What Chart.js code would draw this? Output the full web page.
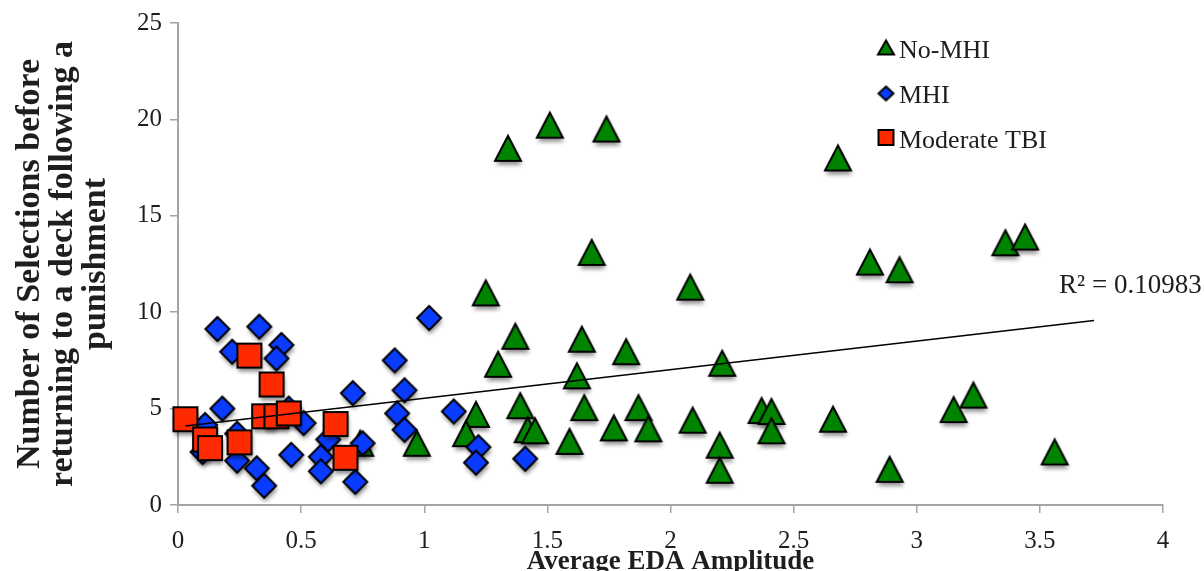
<!DOCTYPE html>
<html>
<head>
<meta charset="utf-8">
<script src="https://cdn.jsdelivr.net/npm/chart.js@4.4.0/dist/chart.umd.min.js"></script>
<style>
html,body{margin:0;padding:0;background:#fff;}
#wrap{width:1204px;height:571px;position:relative;}
</style>
</head>
<body>
<div id="wrap"><canvas id="c" width="1204" height="571"></canvas></div>
<script>
// ---- data ----
const seriesNames = ['No-MHI', 'MHI', 'Moderate TBI'];

const noMhiX = [1.51,1.74,1.34,2.68,1.68,3.36,3.44,2.81,2.93,1.25,2.08,1.37,1.64,1.82,1.30,2.21,1.62,1.39,1.65,1.87,1.21,2.09,1.42,1.45,1.17,1.77,1.91,0.97,1.59,0.74,2.37,2.41,2.41,2.20,2.20,2.66,2.89,3.15,3.23,3.56];
const noMhiY = [19.7,19.5,18.5,18.0,13.1,13.6,13.9,12.6,12.2,11.0,11.3,8.75,8.6,7.95,7.3,7.35,6.7,5.15,5.05,5.05,4.7,4.4,3.9,3.85,3.7,4.0,3.95,3.2,3.3,3.2,4.9,4.85,3.85,3.1,1.8,4.45,1.85,4.95,5.7,2.75];

const mhiX = [0.16,0.33,0.42,0.22,0.40,1.02,0.88,0.71,0.92,0.18,1.12,0.89,0.92,0.11,0.51,0.61,0.75,0.10,0.24,0.46,0.58,0.32,0.58,0.72,0.35,1.22,1.21,1.41,0.45,0.24];
const mhiY = [9.13,9.25,8.3,7.95,7.6,9.7,7.5,5.8,5.95,5.0,4.85,4.75,3.9,4.15,4.25,3.4,3.2,2.75,2.3,2.6,2.5,1.9,1.75,1.2,1.0,3.0,2.2,2.4,5.0,3.7];

const tbiX = [0.03,0.11,0.13,0.25,0.29,0.38,0.35,0.40,0.45,0.64,0.68];
const tbiY = [4.45,3.4,2.95,3.25,7.75,6.25,4.6,4.6,4.75,4.2,2.45];

const trendX = [0.03, 3.72];
const trendY = [4.10, 9.57];
const r2Text = 'R\u00B2 = 0.10983';

const xTicks = [0, 0.5, 1, 1.5, 2, 2.5, 3, 3.5, 4];
const yTicks = [0, 5, 10, 15, 20, 25];

const xTitle = 'Average EDA Amplitude';
const yTitle = ['Number of Selections before', 'returning to a deck following a', 'punishment'];

// ---- styles ----
const GREEN = '#008400';
const BLUE = '#0a3cff';
const RED = '#ff2a00';
const AXIS = '#a4a4a4';
const TEXT = '#1e1e1e';
const FONT = "'Liberation Serif', 'DejaVu Serif', serif";

function toPoints(xs, ys) { return xs.map((x, i) => ({ x: x, y: ys[i] })); }

function shapePath(ctx, shape, cx, cy, w, h) {
  ctx.beginPath();
  if (shape === 'triangle') {
    ctx.moveTo(cx, cy - h / 2);
    ctx.lineTo(cx + w / 2, cy + h / 2);
    ctx.lineTo(cx - w / 2, cy + h / 2);
  } else if (shape === 'diamond') {
    ctx.moveTo(cx, cy - h / 2);
    ctx.lineTo(cx + w / 2, cy);
    ctx.lineTo(cx, cy + h / 2);
    ctx.lineTo(cx - w / 2, cy);
  } else {
    ctx.rect(cx - w / 2, cy - h / 2, w, h);
  }
  ctx.closePath();
}

function makeMarker(shape, fill, w, h, shadow) {
  const pad = 10;
  const c = document.createElement('canvas');
  c.width = Math.round(w + pad * 2);
  c.height = Math.round(h + pad * 2);
  const ctx = c.getContext('2d');
  const cx = c.width / 2, cy = c.height / 2;
  ctx.lineJoin = 'miter';
  if (shadow) {
    ctx.save();
    ctx.shadowColor = 'rgba(0,0,0,0.45)';
    ctx.shadowOffsetX = 1;
    ctx.shadowOffsetY = 4;
    ctx.shadowBlur = 4;
    shapePath(ctx, shape, cx, cy, w, h);
    ctx.fillStyle = fill;
    ctx.fill();
    ctx.restore();
  }
  shapePath(ctx, shape, cx, cy, w, h);
  ctx.fillStyle = fill;
  ctx.fill();
  ctx.lineWidth = 2;
  ctx.strokeStyle = '#000';
  ctx.stroke();
  return c;
}

const triImg = makeMarker('triangle', GREEN, 26, 25, true);
const diaImg = makeMarker('diamond', BLUE, 24, 24, true);
const sqImg = makeMarker('square', RED, 24, 24, true);

const legendMarks = [
  makeMarker('triangle', GREEN, 16, 14, false),
  makeMarker('diamond', BLUE, 15, 14, false),
  makeMarker('square', RED, 15, 15, false)
];

const extrasPlugin = {
  id: 'extras',
  afterDraw(chart) {
    const ctx = chart.ctx;
    const xs = chart.scales.x, ys = chart.scales.y;
    ctx.save();
    // legend
    ctx.font = '26px ' + FONT;
    ctx.fillStyle = TEXT;
    ctx.textBaseline = 'alphabetic';
    ctx.textAlign = 'left';
    const rows = [{ my: 47.5, by: 58 }, { my: 93.5, by: 103 }, { my: 137.5, by: 148 }];
    seriesNames.forEach((name, i) => {
      const m = legendMarks[i];
      ctx.drawImage(m, 886 - m.width / 2, rows[i].my - m.height / 2);
      ctx.fillText(name, 899, rows[i].by);
    });
    // R^2 label anchored at the trendline end
    const ex = xs.getPixelForValue(trendX[1]);
    const ey = ys.getPixelForValue(trendY[1]);
    ctx.font = '27px ' + FONT;
    ctx.fillText(r2Text, ex - 35, ey - 27);
    ctx.restore();
  }
};

const chart = new Chart(document.getElementById('c'), {
  type: 'scatter',
  data: {
    datasets: [
      { label: seriesNames[0], data: toPoints(noMhiX, noMhiY), pointStyle: triImg, order: 3, clip: false },
      { label: seriesNames[1], data: toPoints(mhiX, mhiY), pointStyle: diaImg, order: 2, clip: false },
      { label: seriesNames[2], data: toPoints(tbiX, tbiY), pointStyle: sqImg, order: 1, clip: false },
      { type: 'line', label: 'trend', data: toPoints(trendX, trendY), borderColor: '#000', borderWidth: 1.6,
        pointRadius: 0, showLine: true, fill: false, order: 0, clip: false }
    ]
  },
  options: {
    responsive: false,
    animation: false,
    devicePixelRatio: 1,
    events: [],
    layout: { padding: { top: 23, right: 41, left: 0, bottom: 0 } },
    plugins: { legend: { display: false }, tooltip: { enabled: false }, title: { display: false } },
    scales: {
      x: {
        type: 'linear', min: 0, max: 4,
        afterBuildTicks: (s) => { s.ticks = xTicks.map(v => ({ value: v })); },
        afterFit: (s) => { s.height = 66; },
        ticks: { color: TEXT, font: { family: FONT, size: 25 }, padding: 13, callback: (v) => String(v) },
        grid: { drawOnChartArea: false, drawTicks: true, tickLength: 8, color: AXIS, lineWidth: 1.5 },
        border: { display: true, color: AXIS, width: 2 },
        title: { display: true, text: xTitle, color: TEXT, font: { family: FONT, size: 27, weight: 'bold', lineHeight: 1 }, padding: { top: 0, bottom: -5 } }
      },
      y: {
        type: 'linear', min: 0, max: 25,
        afterBuildTicks: (s) => { s.ticks = yTicks.map(v => ({ value: v })); },
        afterFit: (s) => { s.width = 178; },
        ticks: { color: TEXT, font: { family: FONT, size: 25 }, padding: 8, callback: (v) => String(v) },
        grid: { drawOnChartArea: false, drawTicks: true, tickLength: 8, color: AXIS, lineWidth: 1.5 },
        border: { display: true, color: AXIS, width: 2 },
        title: { display: true, text: yTitle, color: TEXT, font: { family: FONT, size: 34, weight: 'bold', lineHeight: 33 / 34 }, padding: { top: 14, bottom: 0 } }
      }
    }
  },
  plugins: [extrasPlugin]
});
</script>
</body>
</html>
